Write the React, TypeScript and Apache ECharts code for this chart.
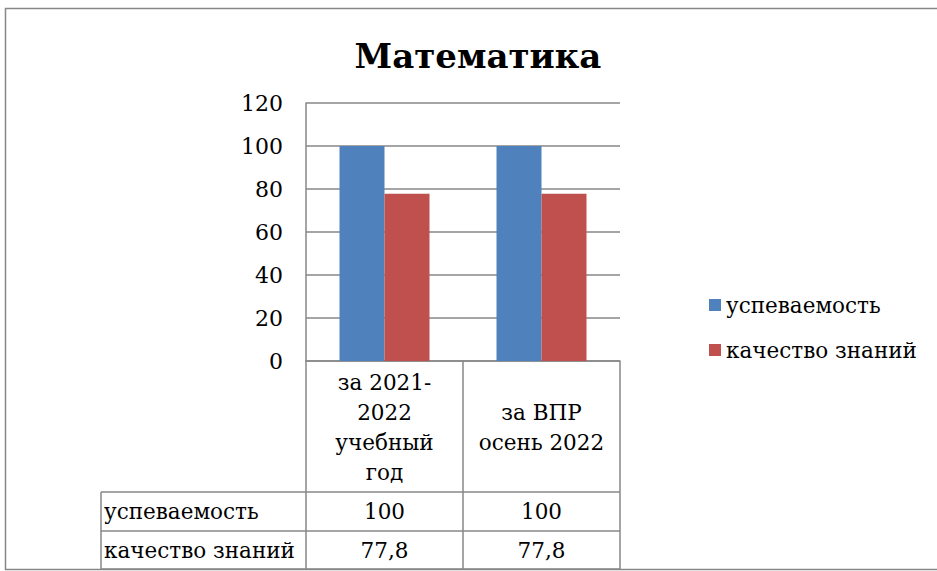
import React, { useEffect, useRef } from "react";
import * as echarts from "echarts";

const categories = ["за 2021-\n2022\nучебный\nгод", "\nза ВПР\nосень 2022\n"];
const seriesNames = ["успеваемость", "качество знаний"];
const uspevaemost = [100, 100];
const kachestvo = [77.8, 77.8];
const tableValues = [["100", "100"], ["77,8", "77,8"]];
const yTicks = { min: 0, max: 120, interval: 20 };

const FONT = "DejaVu Serif";
const FS = 21.5;
const GRAY = "#878787";

export default function App() {
  const ref = useRef<HTMLDivElement>(null);
  useEffect(() => {
    if (!ref.current) return;
    const chart = echarts.init(ref.current, null, { renderer: "svg" });
    const gridLeft = 306, gridRight = 620, gridTop = 103, gridBottom = 361;
    const tableLeft = 101;
    const rowLines = [492, 531, 569];
    const colCenters = [384.5, 541.5];
    const graphic: any[] = [
      {
        type: "rect",
        shape: { x: 5.5, y: 8.5, width: 960, height: 561 },
        style: { fill: "none", stroke: GRAY, lineWidth: 1.5 },
        silent: true,
      },
      {
        type: "text",
        x: 478,
        y: 56,
        style: {
          text: "Математика",
          fontFamily: FONT,
          fontSize: 34,
          fontWeight: "bold",
          fill: "#000",
          textAlign: "center",
          textVerticalAlign: "middle",
        },
      },
    ];
    rowLines.forEach((y) => {
      graphic.push({
        type: "line",
        shape: { x1: tableLeft, y1: y, x2: gridRight, y2: y },
        style: { stroke: GRAY, lineWidth: 1.5 },
      });
    });
    graphic.push({
      type: "line",
      shape: { x1: tableLeft, y1: rowLines[0], x2: tableLeft, y2: rowLines[2] },
      style: { stroke: GRAY, lineWidth: 1.5 },
    });
    seriesNames.forEach((name, r) => {
      const cy = (rowLines[r] + rowLines[r + 1]) / 2;
      graphic.push({
        type: "text",
        x: 104,
        y: cy,
        style: { text: name, fontFamily: FONT, fontSize: FS, fill: "#000", textVerticalAlign: "middle" },
      });
      tableValues[r].forEach((v, c) => {
        graphic.push({
          type: "text",
          x: colCenters[c],
          y: cy,
          style: {
            text: v,
            fontFamily: FONT,
            fontSize: FS,
            fill: "#000",
            textAlign: "center",
            textVerticalAlign: "middle",
          },
        });
      });
    });

    chart.setOption({
      animation: false,
      backgroundColor: "#fff",
      textStyle: { fontFamily: FONT },
      grid: {
        left: gridLeft,
        top: gridTop,
        width: gridRight - gridLeft,
        height: gridBottom - gridTop,
        containLabel: false,
      },
      legend: {
        orient: "vertical",
        left: 709,
        top: 292,
        padding: 0,
        icon: "rect",
        itemWidth: 12,
        itemHeight: 12,
        itemGap: 19,
        selectedMode: false,
        textStyle: { fontFamily: FONT, fontSize: FS, color: "#000", lineHeight: 26 },
        data: seriesNames,
      },
      xAxis: {
        type: "category",
        data: categories,
        axisLine: { show: true, lineStyle: { color: GRAY, width: 1.5 } },
        axisTick: { show: true, length: 208, lineStyle: { color: GRAY, width: 1.5 } },
        axisLabel: {
          fontFamily: FONT,
          fontSize: FS,
          color: "#000",
          lineHeight: 30,
          margin: 6,
          interval: 0,
          align: "center",
        },
      },
      yAxis: {
        type: "value",
        min: yTicks.min,
        max: yTicks.max,
        interval: yTicks.interval,
        axisLine: { show: true, lineStyle: { color: GRAY, width: 1.5 } },
        axisTick: { show: false },
        splitLine: { show: true, lineStyle: { color: GRAY, width: 1.5 } },
        axisLabel: { fontFamily: FONT, fontSize: 22, color: "#000", margin: 23 },
      },
      series: [
        {
          name: seriesNames[0],
          type: "bar",
          data: uspevaemost,
          barWidth: 45,
          barGap: "0%",
          itemStyle: { color: "#4F81BD" },
        },
        {
          name: seriesNames[1],
          type: "bar",
          data: kachestvo,
          barWidth: 45,
          barGap: "0%",
          itemStyle: { color: "#C0504D" },
        },
      ],
      graphic,
    });
    return () => chart.dispose();
  }, []);
  return (
    <div
      ref={ref}
      style={{ position: "fixed", left: 0, top: 0, width: 937, height: 571, background: "#fff" }}
    />
  );
}
